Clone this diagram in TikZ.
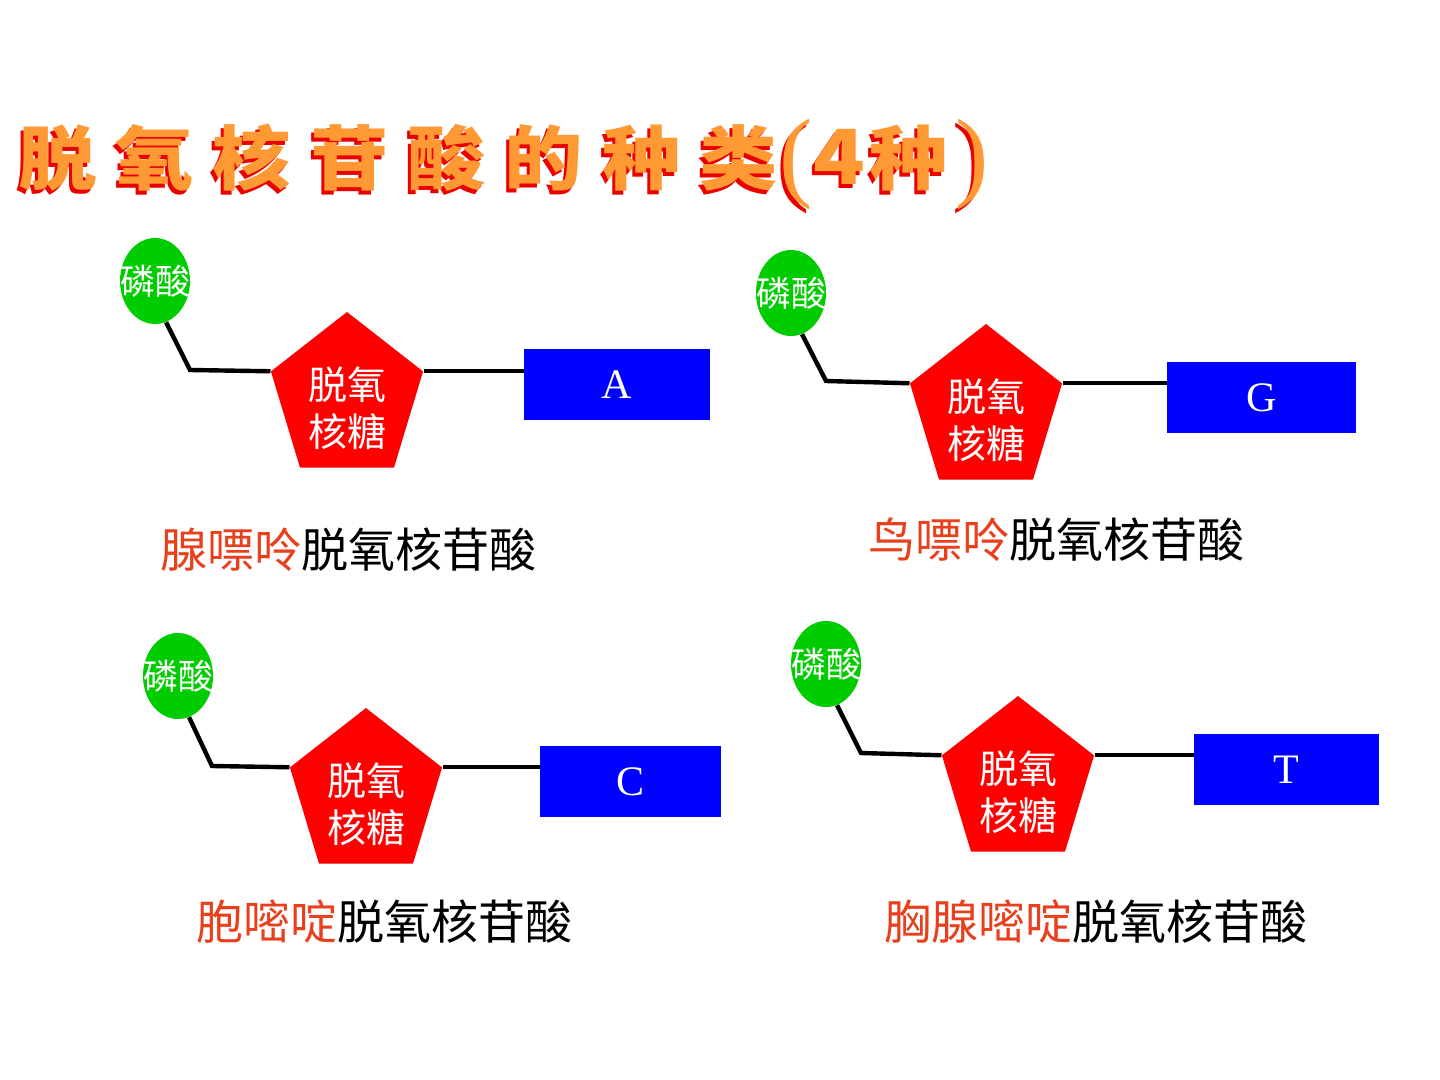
\documentclass[tikz,border=0pt]{standalone}
\usepackage{fontspec}
\setmainfont{Liberation Serif}
\newfontfamily\cjk{Noto Sans CJK SC}
\newfontfamily\cjktitle{Noto Sans CJK SC}[LetterSpace=27,FakeStretch=1.12]
\newfontfamily\cjktitleB{Noto Sans CJK SC}[FakeStretch=1.12]
\newfontfamily\parenfont{Liberation Serif}
\usetikzlibrary{shapes.geometric}
\definecolor{titleorange}{RGB}{255,153,51}
\definecolor{titleshadow}{RGB}{235,0,0}
\definecolor{phosgreen}{RGB}{0,204,0}
\definecolor{baseblue}{RGB}{0,0,255}
\definecolor{sugarred}{RGB}{255,0,0}
\definecolor{namered}{RGB}{232,64,28}
\newcommand{\titlestring}{%
  {\cjktitle\bfseries\fontsize{35}{40}\selectfont 脱氧核苷酸的种类}%
  \hspace{1pt}%
  {\parenfont\fontsize{50}{50}\selectfont\raisebox{-2pt}{(}}%
  {\cjktitleB\bfseries\fontsize{38}{40}\selectfont 4}%
  \hspace{2pt}%
  {\cjktitleB\bfseries\fontsize{35}{40}\selectfont 种}%
  \hspace{4pt}%
  {\parenfont\fontsize{50}{50}\selectfont\raisebox{-2pt}{)}}}
\tikzset{
  phos/.style={ellipse, fill=phosgreen, minimum width=35pt, minimum height=43pt, inner sep=0pt, text=white, font=\cjk\fontsize{17.5}{20}\selectfont},
  sugar/.style={regular polygon, regular polygon sides=5, fill=sugarred, minimum size=86pt, inner sep=0pt, xscale=0.93, transform shape},
  sugartext/.style={text=white, align=center, inner sep=0pt, font=\cjk\fontsize{19.5}{23.5}\selectfont},
  basebox/.style={fill=baseblue, inner sep=0pt, minimum height=35.5pt, text=white, font=\fontsize{21}{24}\selectfont},
  bond/.style={line width=2.2pt, black},
  namelabel/.style={anchor=west, inner sep=0pt, font=\cjk\fontsize{23.5}{28}\selectfont},
  titletext/.style={anchor=base west, inner sep=0pt}
}
\begin{document}
\begin{tikzpicture}[x=0.5pt,y=-0.5pt]
\useasboundingbox[fill=white] (0,0) rectangle (1440,1080);

% title (shadow, then face)
\node[titletext, text=titleshadow] (titleshadow) at (15,189) {\titlestring};
\node[titletext, text=titleorange] (title) at (18,185) {\titlestring};

% unit 1: A
\node[phos] (p1) at (155,281) {\makebox[0pt]{磷酸}};
\node[sugar] (s1) at (347,398) {};
\node[sugartext] (t1) at (347,408) {脱氧\\核糖};
\node[basebox, minimum width=93pt] (b1) at (617,385) {A};
\coordinate (k1) at (190,370);
\draw[bond] (p1.285) -- (k1) -- (s1.corner 2);
\draw[bond] (s1.corner 5) -- (s1.corner 5 -| b1.west);
\node[namelabel] (n1) at (160,550) {\textcolor{namered}{腺嘌呤}脱氧核苷酸};

% unit 2: G
\node[phos] (p2) at (791,293) {\makebox[0pt]{磷酸}};
\node[sugar] (s2) at (986,410) {};
\node[sugartext] (t2) at (986,420) {脱氧\\核糖};
\node[basebox, minimum width=94.5pt] (b2) at (1261.5,397.5) {G};
\coordinate (k2) at (826,381);
\draw[bond] (p2.285) -- (k2) -- (s2.corner 2);
\draw[bond] (s2.corner 5) -- (s2.corner 5 -| b2.west);
\node[namelabel] (n2) at (868,540) {\textcolor{namered}{鸟嘌呤}脱氧核苷酸};

% unit 3: C
\node[phos] (p3) at (178,676) {\makebox[0pt]{磷酸}};
\node[sugar] (s3) at (366,794) {};
\node[sugartext] (t3) at (366,804) {脱氧\\核糖};
\node[basebox, minimum width=90.5pt] (b3) at (630.5,781.5) {C};
\coordinate (k3) at (212,766);
\draw[bond] (p3.285) -- (k3) -- (s3.corner 2);
\draw[bond] (s3.corner 5) -- (s3.corner 5 -| b3.west);
\node[namelabel] (n3) at (196,922) {\textcolor{namered}{胞嘧啶}脱氧核苷酸};

% unit 4: T
\node[phos] (p4) at (826,664) {\makebox[0pt]{磷酸}};
\node[sugar] (s4) at (1018,782) {};
\node[sugartext] (t4) at (1018,792) {脱氧\\核糖};
\node[basebox, minimum width=92.5pt] (b4) at (1286.5,769.5) {T};
\coordinate (k4) at (861,753);
\draw[bond] (p4.285) -- (k4) -- (s4.corner 2);
\draw[bond] (s4.corner 5) -- (s4.corner 5 -| b4.west);
\node[namelabel] (n4) at (884,922) {\textcolor{namered}{胸腺嘧啶}脱氧核苷酸};
\end{tikzpicture}
\end{document}
